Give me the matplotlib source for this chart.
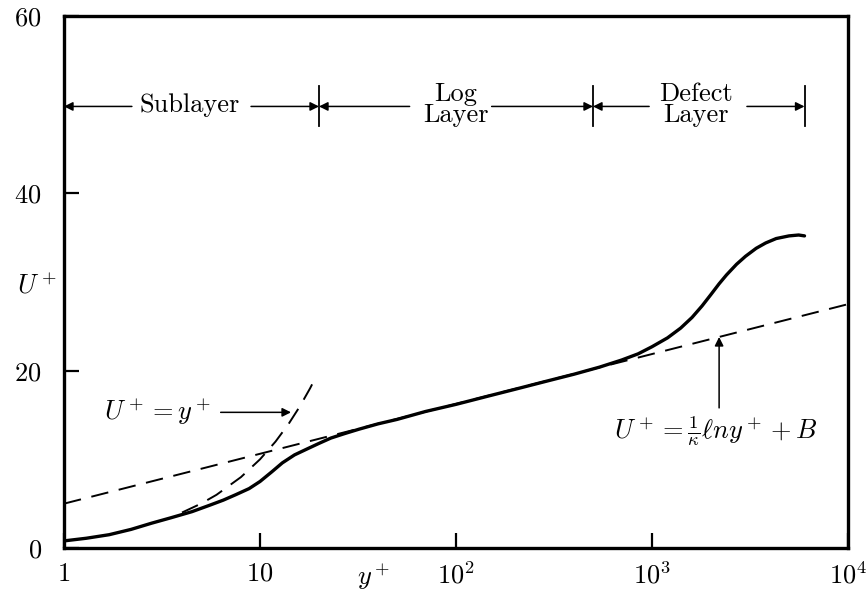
import numpy as np
import matplotlib
matplotlib.use("Agg")
import matplotlib.pyplot as plt

plt.rcParams['mathtext.fontset'] = 'cm'
plt.rcParams['font.family'] = ['cmr10', 'DejaVu Serif']

# velocity profile
y_plus = [1, 1.3, 1.7, 2.2, 2.8, 3.5, 4.5, 5.5, 6.5, 7.5, 8.8, 10, 11.5, 13, 15,
          17.5, 20, 23, 27, 32, 40, 50, 70, 100, 150, 200, 300, 400, 540, 700,
          850, 1000, 1200, 1400, 1600, 1800, 2000, 2200, 2400, 2700, 3000, 3400,
          3800, 4300, 5000, 5600, 6000]
u_plus = [0.8, 1.1, 1.5, 2.1, 2.8, 3.4, 4.1, 4.8, 5.4, 6.0, 6.7, 7.5, 8.6, 9.6, 10.5,
          11.2, 11.8, 12.4, 12.9, 13.4, 14.0, 14.5, 15.4, 16.2, 17.2, 17.9, 18.9, 19.6,
          20.4, 21.2, 21.9, 22.7, 23.7, 24.8, 26.0, 27.3, 28.6, 29.8, 30.8, 32.0, 32.9,
          33.8, 34.4, 34.9, 35.2, 35.3, 35.2]

# sublayer line U+ = y+
sub_y = [4.0, 5.0, 6.0, 8.0, 10.0, 12.0, 14.0, 16.0, 18.0, 19.5]
sub_u = [4.0, 5.0, 6.0, 8.0, 10.0, 12.0, 14.0, 16.0, 18.0, 19.5]

# log law line end points
log_y = [1, 1e4]
log_u = [5.0, 27.5]

# layer boundaries and labels
bounds = [1, 20, 500, 6000]
layer_names = ['Sublayer', 'Log\nLayer', 'Defect\nLayer']
layer_text_x = [4.4, 100, 1680]
arrow_starts = [(2.22, 9.0), (58, 152), (967, 3050)]

xticks = [1, 10, 100, 1000, 10000]
xlabels = ['$1$', '$10$', '$10^2$', '$10^3$', '$10^4$']
yticks = [0, 20, 40, 60]
ylabels = ['$0$', '$20$', '$40$', '$60$']

fig = plt.figure(figsize=(8.66, 5.95), dpi=100)
ax = fig.add_axes([64 / 866, 47 / 595, (848 - 64) / 866, (548 - 16) / 595])

ax.plot(y_plus, u_plus, color='k', lw=2.4, solid_capstyle='round',
        solid_joinstyle='round')
ax.plot(sub_y, sub_u, color='k', lw=1.4, dashes=(9, 5.5))
ax.plot(log_y, log_u, color='k', lw=1.4, dashes=(9, 5.5))

ax.set_xscale('log')
ax.set_xlim(1, 1e4)
ax.set_ylim(0, 60)
ax.set_xticks(xticks)
ax.set_xticklabels(xlabels)
ax.set_yticks(yticks)
ax.set_yticklabels(ylabels)
ax.minorticks_off()
ax.tick_params(direction='in', length=11, width=1.6, labelsize=19)
ax.tick_params(axis='x', pad=10)
ax.tick_params(axis='y', pad=16)
for s in ax.spines.values():
    s.set_linewidth(2.4)

# axis labels placed as text
ax.text(-0.035, 29.6, '$U^+$', fontsize=19, ha='center', va='center',
        transform=ax.get_yaxis_transform())
ax.text(38, -3.3, '$y^+$', fontsize=19, ha='center', va='center')

# layer markers and arrows
row_u = 49.8
for b in bounds[1:]:
    ax.plot([b, b], [47.6, 52.1], color='k', lw=1.3)
arrow_kw = dict(arrowstyle='-|>', lw=1.1, color='k', mutation_scale=13,
                shrinkA=0, shrinkB=0)
for i, name in enumerate(layer_names):
    ax.text(layer_text_x[i], row_u + 0.2, name, fontsize=19, ha='center',
            va='center', linespacing=0.85)
    ax.annotate('', xy=(bounds[i], row_u), xytext=(arrow_starts[i][0], row_u),
                arrowprops=arrow_kw)
    ax.annotate('', xy=(bounds[i + 1], row_u), xytext=(arrow_starts[i][1], row_u),
                arrowprops=arrow_kw)

# equation labels
ax.text(1.6, 15.3, '$U^+ = y^+$', fontsize=19, ha='left', va='center')
ax.annotate('', xy=(14.4, 15.3), xytext=(6.3, 15.3), arrowprops=arrow_kw)
ax.text(640, 13.2, r'$U^+ = \frac{1}{\kappa}\ell n y^+ + B$', fontsize=19,
        ha='left', va='center')
ax.annotate('', xy=(2200, 23.8), xytext=(2200, 15.8), arrowprops=arrow_kw)

fig.savefig('out.png', dpi=100)
